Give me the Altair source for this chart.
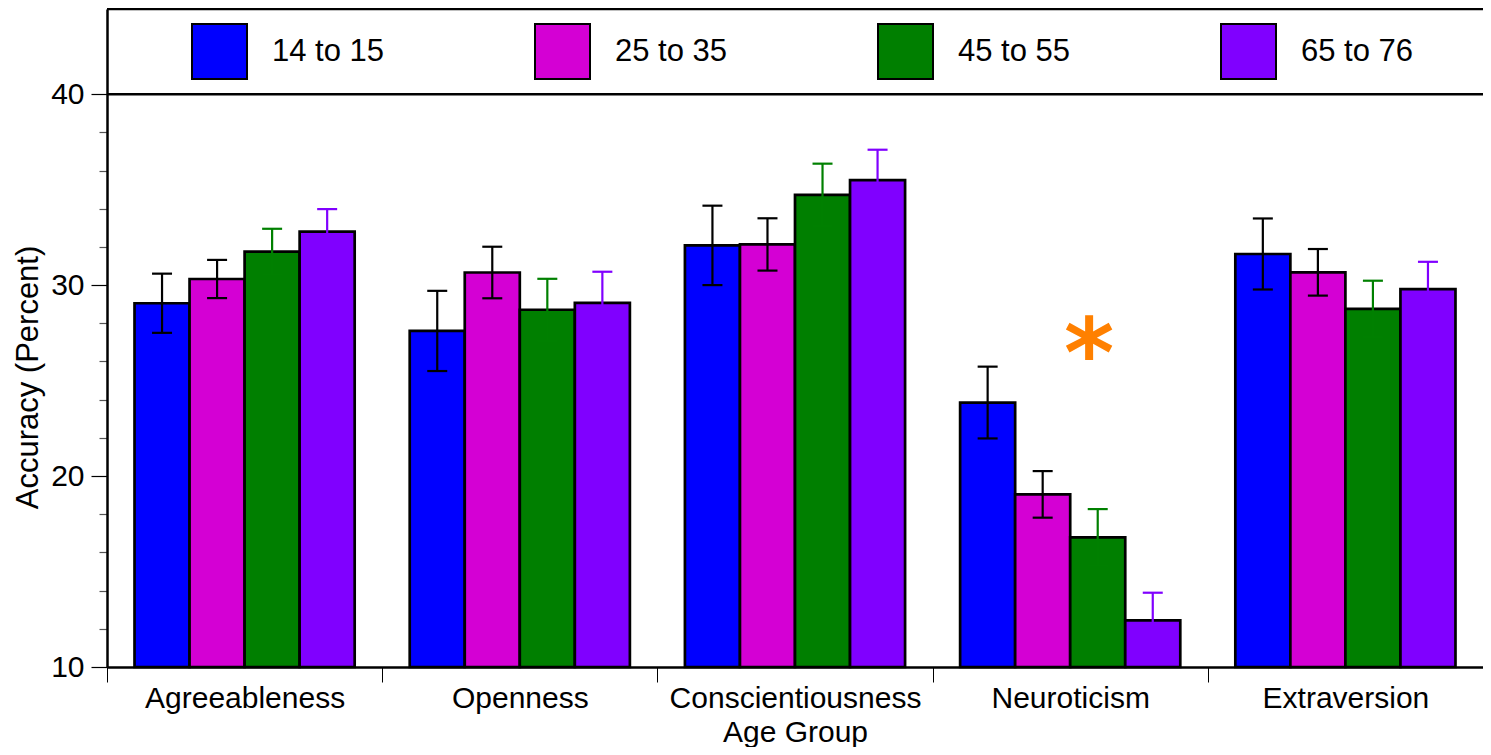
import altair as alt
import pandas as pd

FONT = "Liberation Sans"

traits = ["Agreeableness", "Openness", "Conscientiousness", "Neuroticism", "Extraversion"]
groups = ["14 to 15", "25 to 35", "45 to 55", "65 to 76"]
fill_colors = ["#0000ff", "#d400d4", "#007f00", "#8000ff"]
err_colors = ["#000000", "#000000", "#008000", "#8000ff"]

# mean accuracy (percent) per age group, in trait order
acc_14_15 = [29.05, 27.60, 32.08, 23.85, 31.63]
acc_25_35 = [30.32, 30.66, 32.13, 19.04, 30.67]
acc_45_55 = [31.75, 28.71, 34.73, 16.79, 28.76]
acc_65_76 = [32.80, 29.07, 35.50, 12.44, 29.79]

# error bar half-lengths
err_14_15 = [1.55, 2.10, 2.08, 1.88, 1.86]
err_25_35 = [1.00, 1.35, 1.37, 1.22, 1.22]
err_45_55 = [1.20, 1.62, 1.63, 1.48, 1.47]
err_65_76 = [1.18, 1.63, 1.59, 1.45, 1.43]

y_ticks = list(range(10, 41, 2))
star_trait = ["Neuroticism"]
star_level = [26.2]
legend_line = [40]

accs = [acc_14_15, acc_25_35, acc_45_55, acc_65_76]
errs = [err_14_15, err_25_35, err_45_55, err_65_76]
rows = []
for gi, g in enumerate(groups):
    for ti, t in enumerate(traits):
        v = accs[gi][ti]
        e = errs[gi][ti]
        rows.append({"trait": t, "group": g, "value": v, "lo": v - e, "hi": v + e,
                     "ecolor": err_colors[gi]})
df = pd.DataFrame(rows)

W, H = 1376, 658
YMAX = 44.46

x_enc = alt.X(
    "trait:N", sort=traits, title="Age Group",
    scale=alt.Scale(paddingInner=0, paddingOuter=0),
    axis=alt.Axis(labelAngle=0, tickBand="extent", tickSize=15, tickColor="black", tickWidth=1,
                  grid=False, labelLimit=0,
                  domainColor="black", domainWidth=2.5, labelFontSize=30, labelFont=FONT,
                  labelColor="black", labelPadding=25, labelBaseline="alphabetic",
                  titleFontSize=30, titleFont=FONT, titleFontWeight="normal", titleColor="black",
                  titleY=74, titleBaseline="alphabetic"),
)
xoff = alt.XOffset("group:N", sort=groups, scale=alt.Scale(paddingInner=0, paddingOuter=0.5))
y_scale = alt.Scale(domain=[10, YMAX], nice=False, zero=False)
y_axis = alt.Axis(
    values=y_ticks, grid=False,
    labelExpr="datum.value % 10 === 0 ? datum.label : ''",
    tickSize={"condition": {"test": "datum.value % 10 === 0", "value": 16}, "value": 8},
    tickColor={"condition": {"test": "datum.value % 10 === 0", "value": "black"}, "value": "#555555"},
    tickWidth=1.2, domainColor="black", domainWidth=2.5,
    labelFontSize=30, labelFont=FONT, labelColor="black", labelPadding=7,
    title="Accuracy (Percent)", titleFontSize=31, titleFont=FONT, titleFontWeight="normal",
    titleColor="black", titleAngle=270, titleX=-79, titleY=368, titleBaseline="middle",
    titleAlign="center",
)

color = alt.Color(
    "group:N", sort=groups, scale=alt.Scale(domain=groups, range=fill_colors),
    legend=alt.Legend(orient="none", legendX=84, legendY=14, direction="horizontal", title=None,
                      symbolType="square", symbolSize=3025, symbolStrokeColor="black",
                      symbolStrokeWidth=2, symbolOpacity=1, labelFontSize=31, labelFont=FONT,
                      labelColor="black", labelOffset=24, columnPadding=146, padding=0,
                      labelLimit=400),
)

bars = alt.Chart(df).mark_bar(stroke="black", strokeWidth=2.7, opacity=1).encode(
    x=x_enc, xOffset=xoff,
    y=alt.Y("value:Q", scale=y_scale, axis=y_axis),
    y2=alt.Y2(datum=10),
    color=color,
)

ecol = alt.Color("ecolor:N", scale=None, legend=None)
err_rule = alt.Chart(df).mark_rule(strokeWidth=2.2).encode(
    x=x_enc, xOffset=xoff, y=alt.Y("lo:Q", scale=y_scale), y2="hi:Q", color=ecol)
cap_hi = alt.Chart(df).mark_tick(size=20, thickness=2.2, opacity=1).encode(
    x=x_enc, xOffset=xoff, y=alt.Y("hi:Q", scale=y_scale), color=ecol)
cap_lo = alt.Chart(df).mark_tick(size=20, thickness=2.2, opacity=1).encode(
    x=x_enc, xOffset=xoff, y=alt.Y("lo:Q", scale=y_scale), color=ecol)

star_df = pd.DataFrame({"trait": star_trait, "level": star_level})
star = alt.Chart(star_df).mark_text(
    text="*", font="DejaVu Sans", fontWeight="bold", fontSize=96, color="#ff8000",
    align="center", baseline="middle", dx=19,
).encode(x=x_enc, y=alt.Y("level:Q", scale=y_scale))

line_df = pd.DataFrame({"v": legend_line})
box_bottom = alt.Chart(line_df).mark_rule(color="black", strokeWidth=2.5).encode(
    y=alt.Y("v:Q", scale=y_scale), x=alt.value(0), x2=alt.value(W))
box_top = alt.Chart(line_df).mark_rule(color="black", strokeWidth=2.5).encode(
    y=alt.value(0), x=alt.value(0), x2=alt.value(W))

chart = alt.layer(bars, err_rule, cap_hi, cap_lo, star, box_bottom, box_top).resolve_scale(
    color="independent"
).properties(
    width=W, height=H,
    autosize=alt.AutoSizeParams(type="none"),
    padding={"left": 99, "top": 1, "right": 0, "bottom": 80},
).configure_view(stroke=None).configure(font=FONT)

chart.save("out.html", embed_options={"renderer": "svg", "actions": False})
